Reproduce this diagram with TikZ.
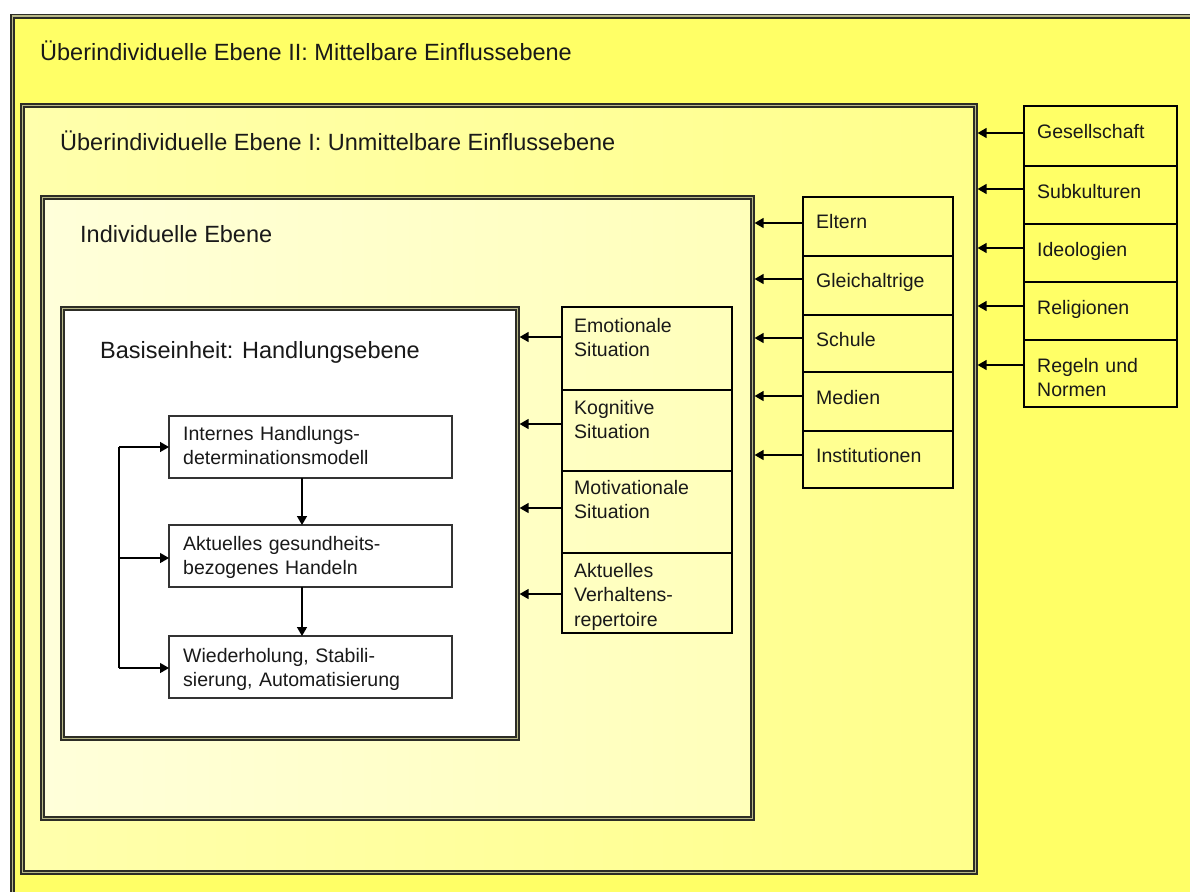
\documentclass[tikz,border=0pt]{standalone}
\usepackage{fontspec}
\setmainfont{Liberation Sans}
\usetikzlibrary{arrows.meta}
\definecolor{outerY}{RGB}{255,255,102}
\definecolor{lvlAL}{RGB}{255,255,172}
\definecolor{lvlAR}{RGB}{255,255,140}
\definecolor{lvlBL}{RGB}{255,255,218}
\definecolor{lvlBR}{RGB}{255,255,186}
\definecolor{frameC}{RGB}{45,45,38}
\definecolor{gapC}{RGB}{185,185,135}
\definecolor{txtC}{RGB}{25,25,25}
\tikzset{
  dbox/.style={draw=frameC, line width=1.5pt, double=gapC, double distance=1.6pt,
    rectangle, anchor=north west, inner sep=0pt, outer sep=2.3pt},
  rowbox/.style={draw=black, line width=1.4pt, rectangle, anchor=north west,
    inner sep=0pt, outer sep=0pt},
  colframe/.style={draw=black, line width=2.8pt},
  flowbox/.style={draw=black!80, line width=1.5pt, fill=white, rectangle,
    anchor=north west, inner sep=0pt, outer sep=0pt},
  title/.style={anchor=base west, inner sep=0pt, text=txtC,
    font=\fontsize{23.5}{28}\selectfont},
  small/.style={anchor=base west, inner sep=0pt, text=txtC, align=left,
    text width=170pt, font=\fontsize{19.5}{24.5}\selectfont},
  arr/.style={draw=black, line width=1.4pt, -{Triangle[length=9pt,width=10pt]}},
  conn/.style={draw=black, line width=1.4pt}
}
\begin{document}
\begin{tikzpicture}[x=1pt,y=-1pt]
\useasboundingbox (0,0) rectangle (1190,891);
\clip (0,0) rectangle (1190,891);
\fill[white] (0,0) rectangle (1190,891);

% nested levels
\node[dbox, fill=outerY, minimum width=1210pt, minimum height=906pt] (lvlII) at (10,14) {};
\node[dbox, left color=lvlAL, right color=lvlAR, minimum width=953pt, minimum height=767pt] (lvlI) at (20,103) {};
\node[dbox, left color=lvlBL, right color=lvlBR, minimum width=710pt, minimum height=621pt] (indiv) at (40,195) {};
\node[dbox, fill=white, minimum width=455pt, minimum height=430pt] (basis) at (60,306) {};

% titles
\node[title] (tII) at (40,60) {Überindividuelle Ebene II: Mittelbare Einflussebene};
\node[title] (tI) at (60,150) {Überindividuelle Ebene I: Unmittelbare Einflussebene};
\node[title] (tInd) at (80,242) {Individuelle Ebene};
\node[title] (tBas) at (100,358) {Basiseinheit: Handlungsebene};

% column A (Gesellschaft ...)
\node[rowbox, minimum width=153pt, minimum height=60pt] (a1) at (1024,106) {};
\node[rowbox, minimum width=153pt, minimum height=58pt] (a2) at (1024,166) {};
\node[rowbox, minimum width=153pt, minimum height=58pt] (a3) at (1024,224) {};
\node[rowbox, minimum width=153pt, minimum height=58pt] (a4) at (1024,282) {};
\node[rowbox, minimum width=153pt, minimum height=67pt] (a5) at (1024,340) {};
\draw[colframe] (a1.north west) rectangle (a5.south east);
\node[small] (ta1) at (1037,138) {Gesellschaft};
\node[small] (ta2) at (1037,198) {Subkulturen};
\node[small] (ta3) at (1037,256) {Ideologien};
\node[small] (ta4) at (1037,314) {Religionen};
\node[small] (ta5) at (1037,372) {Regeln und\\Normen};
\coordinate (pa1) at ([yshift=3pt]a1.west);
\coordinate (pa2) at ([yshift=6pt]a2.west);
\coordinate (pa3) at ([yshift=5pt]a3.west);
\coordinate (pa4) at ([yshift=5pt]a4.west);
\coordinate (pa5) at ([yshift=8.5pt]a5.west);
\foreach \i in {1,...,5} {\draw[arr] (pa\i) -- (lvlI.east |- pa\i);}

% column B (Eltern ...)
\node[rowbox, minimum width=150pt, minimum height=59pt] (b1) at (803,197) {};
\node[rowbox, minimum width=150pt, minimum height=59pt] (b2) at (803,256) {};
\node[rowbox, minimum width=150pt, minimum height=57pt] (b3) at (803,315) {};
\node[rowbox, minimum width=150pt, minimum height=59pt] (b4) at (803,372) {};
\node[rowbox, minimum width=150pt, minimum height=57pt] (b5) at (803,431) {};
\draw[colframe] (b1.north west) rectangle (b5.south east);
\node[small] (tb1) at (816,228) {Eltern};
\node[small] (tb2) at (816,287) {Gleichaltrige};
\node[small] (tb3) at (816,346) {Schule};
\node[small] (tb4) at (816,404) {Medien};
\node[small] (tb5) at (816,462) {Institutionen};
\coordinate (pb1) at ([yshift=3.5pt]b1.west);
\coordinate (pb2) at ([yshift=6.5pt]b2.west);
\coordinate (pb3) at ([yshift=5.5pt]b3.west);
\coordinate (pb4) at ([yshift=5.5pt]b4.west);
\coordinate (pb5) at ([yshift=4.5pt]b5.west);
\foreach \i in {1,...,5} {\draw[arr] (pb\i) -- (indiv.east |- pb\i);}

% column C (Emotionale Situation ...)
\node[rowbox, minimum width=170pt, minimum height=83pt] (c1) at (562,307) {};
\node[rowbox, minimum width=170pt, minimum height=81pt] (c2) at (562,390) {};
\node[rowbox, minimum width=170pt, minimum height=82pt] (c3) at (562,471) {};
\node[rowbox, minimum width=170pt, minimum height=80pt] (c4) at (562,553) {};
\draw[colframe] (c1.north west) rectangle (c4.south east);
\node[small] (tc1) at (574,332) {Emotionale\\Situation};
\node[small] (tc2) at (574,414) {Kognitive\\Situation};
\node[small] (tc3) at (574,494) {Motivationale\\Situation};
\node[small] (tc4) at (574,577) {Aktuelles\\Verhaltens-\\repertoire};
\coordinate (pc1) at ([yshift=11.5pt]c1.west);
\coordinate (pc2) at ([yshift=6.5pt]c2.west);
\coordinate (pc3) at ([yshift=4pt]c3.west);
\coordinate (pc4) at ([yshift=-1pt]c4.west);
\foreach \i in {1,...,4} {\draw[arr] (pc\i) -- (basis.east |- pc\i);}

% flow boxes
\node[flowbox, minimum width=283pt, minimum height=62pt] (f1) at (169,416) {};
\node[flowbox, minimum width=283pt, minimum height=62pt] (f2) at (169,525) {};
\node[flowbox, minimum width=283pt, minimum height=62pt] (f3) at (169,636) {};
\node[small, text width=265pt] (tf1) at (183,440) {Internes Handlungs-\\determinationsmodell};
\node[small, text width=265pt] (tf2) at (183,550) {Aktuelles gesundheits-\\bezogenes Handeln};
\node[small, text width=265pt] (tf3) at (183,662) {Wiederholung, Stabili-\\sierung, Automatisierung};
\draw[arr] ([xshift=-8.5pt]f1.south) -- ([xshift=-8.5pt]f2.north);
\draw[arr] ([xshift=-8.5pt]f2.south) -- ([xshift=-8.5pt]f3.north);

\coordinate (k1) at (119,447);
\coordinate (k2) at (119,558);
\coordinate (k3) at (119,668);
\draw[conn] (k1) -- (k3);
\draw[arr] (k1) -- (f1.west |- k1);
\draw[arr] (k2) -- (f2.west |- k2);
\draw[arr] (k3) -- (f3.west |- k3);
\end{tikzpicture}
\end{document}
